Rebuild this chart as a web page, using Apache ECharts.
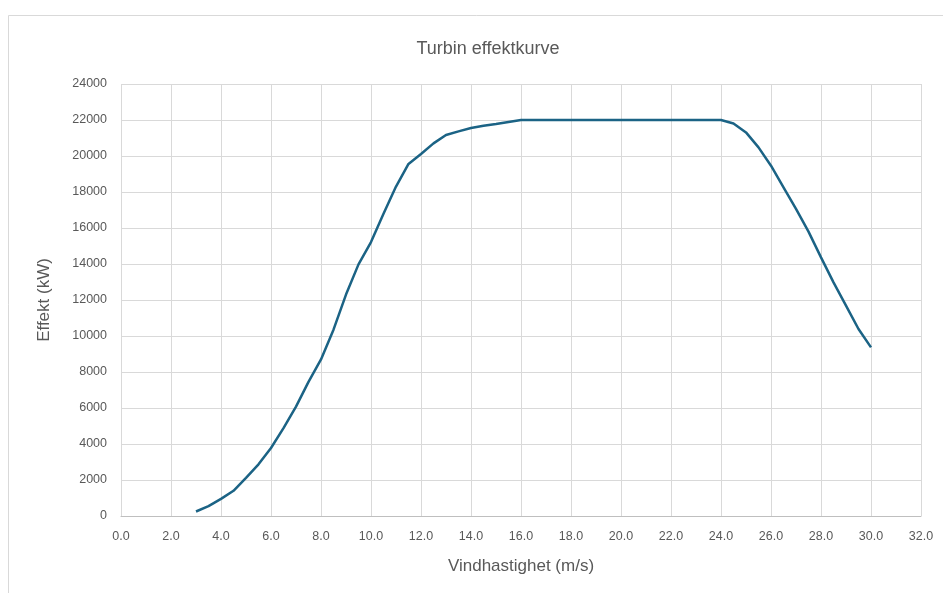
<!DOCTYPE html>
<html>
<head>
<meta charset="utf-8">
<script src="https://cdn.jsdelivr.net/npm/echarts@6/dist/echarts.min.js"></script>
<style>
  html, body { margin: 0; padding: 0; background: #ffffff; }
  #chart { width: 943px; height: 593px; }
</style>
</head>
<body>
<div id="chart"></div>
<script>
// Wind speed (m/s) for each point of the power curve
const windSpeed = [
  3.0, 3.5, 4.0, 4.5, 5.0, 5.5, 6.0, 6.5, 7.0, 7.5,
  8.0, 8.5, 9.0, 9.5, 10.0, 10.5, 11.0, 11.5, 12.0, 12.5,
  13.0, 13.5, 14.0, 14.5, 15.0, 15.5, 16.0, 16.5, 17.0, 17.5,
  18.0, 18.5, 19.0, 19.5, 20.0, 20.5, 21.0, 21.5, 22.0, 22.5,
  23.0, 23.5, 24.0, 24.5, 25.0, 25.5, 26.0, 26.5, 27.0, 27.5,
  28.0, 28.5, 29.0, 29.5, 30.0
];
// Turbine output (kW)
const power = [
  250, 550, 950, 1400, 2120, 2870, 3780, 4880, 6080, 7450,
  8700, 10350, 12300, 13980, 15220, 16790, 18300, 19560, 20110, 20700,
  21170, 21370, 21560, 21680, 21780, 21890, 22000, 22000, 22000, 22000,
  22000, 22000, 22000, 22000, 22000, 22000, 22000, 22000, 22000, 22000,
  22000, 22000, 22000, 21810, 21310, 20480, 19460, 18260, 17060, 15800,
  14370, 12980, 11690, 10390, 9370
];

const chartTitle = 'Turbin effektkurve';
const xName = 'Vindhastighet (m/s)';
const yName = 'Effekt (kW)';

const font = '"Liberation Sans", "DejaVu Sans", sans-serif';
const textGrey = '#595959';
const gridGrey = '#d9d9d9';

const chart = echarts.init(document.getElementById('chart'), null, { renderer: 'canvas' });
chart.setOption({
  animation: false,
  backgroundColor: '#ffffff',
  graphic: [{
    type: 'rect',
    shape: { x: 8.5, y: 15.5, width: 960, height: 600 },
    style: { fill: 'none', stroke: gridGrey, lineWidth: 1 },
    silent: true
  }],
  title: {
    text: chartTitle,
    left: 483,
    top: 35,
    textAlign: 'center',
    textStyle: { fontFamily: font, fontSize: 18, fontWeight: 'normal', color: textGrey }
  },
  grid: { left: 121, right: 22, top: 84, bottom: 77 },
  xAxis: {
    type: 'value',
    min: 0, max: 32, interval: 2,
    name: xName,
    nameLocation: 'middle',
    nameGap: 42,
    nameTextStyle: { fontFamily: font, fontSize: 17, color: textGrey },
    axisLine: { show: true, lineStyle: { color: '#bfbfbf', width: 1 } },
    axisTick: { show: false },
    axisLabel: {
      fontFamily: font, fontSize: 12.5, color: textGrey, margin: 14,
      formatter: v => v.toFixed(1)
    },
    splitLine: { show: true, lineStyle: { color: gridGrey, width: 1 } }
  },
  yAxis: {
    type: 'value',
    min: 0, max: 24000, interval: 2000,
    name: yName,
    nameLocation: 'middle',
    nameGap: 68,
    nameTextStyle: { fontFamily: font, fontSize: 17, color: textGrey },
    axisLine: { show: false },
    axisTick: { show: false },
    axisLabel: {
      fontFamily: font, fontSize: 12.5, color: textGrey, margin: 14,
      formatter: v => String(v)
    },
    splitLine: { show: true, lineStyle: { color: gridGrey, width: 1 } }
  },
  series: [{
    type: 'line',
    data: windSpeed.map((v, i) => [v, power[i]]),
    showSymbol: false,
    smooth: false,
    lineStyle: { color: '#1b6385', width: 2.5 },
    itemStyle: { color: '#1b6385' }
  }]
});
</script>
</body>
</html>
